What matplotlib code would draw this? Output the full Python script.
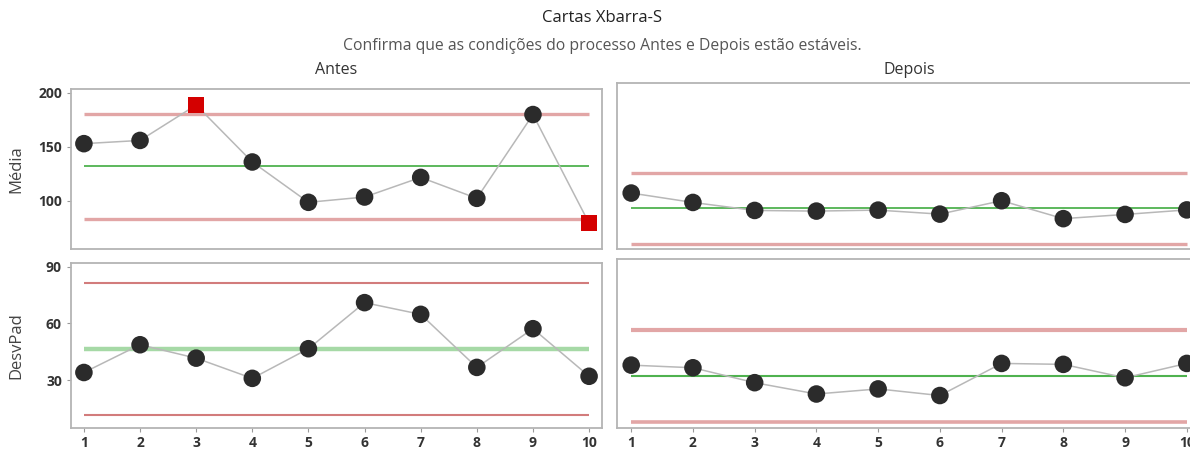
import numpy as np
import matplotlib.pyplot as plt

plt.rcParams['font.family'] = ['Open Sans', 'DejaVu Sans']

subgroups = np.arange(1, 11)

# Antes: subgroup means and standard deviations
antes_media = [153, 156, 188.8, 136, 98.6, 103.5, 121.7, 102.3, 180, 79.2]
antes_desv = [34, 48.7, 41.6, 30.9, 46.6, 71, 64.8, 36.7, 57.2, 32]
antes_media_lim = (83.2, 132.5, 180.2)   # LCL, center, UCL
antes_desv_lim = (11.5, 46.6, 81.4)

# Depois
depois_media = [107.1, 98.4, 91, 90.4, 91.3, 87.6, 100, 83.4, 87.3, 91.5]
depois_desv = [37.9, 36.5, 28.6, 22.6, 25.3, 21.8, 38.8, 38.3, 31.2, 38.8]
depois_media_lim = (59.6, 93, 125.6)
depois_desv_lim = (7.8, 32, 56.3)

media_ticks = [100, 150, 200]
desv_ticks = [30, 60, 90]

fig = plt.figure(figsize=(11.9, 4.5), dpi=100)

W, H = 1190, 450
def box(x0, y0, x1, y1):
    return [x0 / W, 1 - y1 / H, (x1 - x0) / W, (y1 - y0) / H]

ax_tl = fig.add_axes(box(71, 89, 602, 249))
ax_tr = fig.add_axes(box(617, 83, 1201, 249))
ax_bl = fig.add_axes(box(71, 263, 602, 428))
ax_br = fig.add_axes(box(617, 259, 1201, 428))

tick_kw = dict(fontsize=10, fontweight='bold', color='#333333')

RED_THICK, RED_THIN = '#e2a6a6', '#d27c7c'
GREEN_THICK, GREEN_THIN = '#a6d9a6', '#4fb24f'


def draw(ax, values, limits, ylim, ucl=(2.4, RED_THICK), cl=(1.3, GREEN_THIN),
         lcl=(2.4, RED_THICK)):
    lo, mid, hi = limits
    ax.hlines(hi, 1, 10, color=ucl[1], lw=ucl[0], zorder=1)
    ax.hlines(lo, 1, 10, color=lcl[1], lw=lcl[0], zorder=1)
    ax.hlines(mid, 1, 10, color=cl[1], lw=cl[0], zorder=1)
    ax.plot(subgroups, values, color='#b8b8b8', lw=1.1, zorder=2)
    vals = np.array(values)
    out = (vals > hi) | (vals < lo)
    ax.scatter(subgroups[~out], vals[~out], s=160, color='#2b2b2b', zorder=3,
               edgecolors='none')
    ax.scatter(subgroups[out], vals[out], s=125, marker='s', color='#d40000',
               zorder=3, edgecolors='none')
    ax.set_xlim(0.77, 10.23)
    ax.set_ylim(*ylim)
    for sp in ax.spines.values():
        sp.set_color('#b4b4b4')
        sp.set_linewidth(1.3)
    ax.tick_params(colors='#9a9a9a', length=3, width=0.8)


draw(ax_tl, antes_media, antes_media_lim, (55.3, 203.7))
draw(ax_tr, depois_media, depois_media_lim, (55.3, 209))
draw(ax_bl, antes_desv, antes_desv_lim, (4.6, 92),
     ucl=(1.5, RED_THIN), cl=(3.2, GREEN_THICK), lcl=(1.5, RED_THIN))
draw(ax_br, depois_desv, depois_desv_lim, (4.6, 94.1),
     ucl=(3, RED_THICK), cl=(1.5, GREEN_THIN), lcl=(2.6, RED_THICK))

ax_tl.set_yticks(media_ticks)
ax_tl.set_yticklabels([str(t) for t in media_ticks], **tick_kw)
ax_bl.set_yticks(desv_ticks)
ax_bl.set_yticklabels([str(t) for t in desv_ticks], **tick_kw)
for ax in (ax_tr, ax_br):
    ax.set_yticks([])
for ax in (ax_tl, ax_tr):
    ax.set_xticks([])
for ax in (ax_bl, ax_br):
    ax.set_xticks(subgroups)
    ax.set_xticklabels([str(s) for s in subgroups], **tick_kw)
    ax.tick_params(axis='x', pad=2.5)

ax_tl.set_ylabel('Média', fontsize=12, color='#444444')
ax_bl.set_ylabel('DesvPad', fontsize=12, color='#444444')
ax_tl.yaxis.set_label_coords(-0.088, 0.5)
ax_bl.yaxis.set_label_coords(-0.088, 0.5)

fig.text(0.506, 1 - 18 / H, 'Cartas Xbarra-S', ha='center', va='center',
         fontsize=12, color='#222222')
fig.text(0.506, 1 - 46 / H,
         'Confirma que as condições do processo Antes e Depois estão estáveis.',
         ha='center', va='center', fontsize=11.3, color='#555555')
fig.text(336 / W, 1 - 70 / H, 'Antes', ha='center', va='center',
         fontsize=11.5, color='#333333')
fig.text(909 / W, 1 - 70 / H, 'Depois', ha='center', va='center',
         fontsize=11.5, color='#333333')

fig.savefig('out.png', dpi=100, facecolor='white')
